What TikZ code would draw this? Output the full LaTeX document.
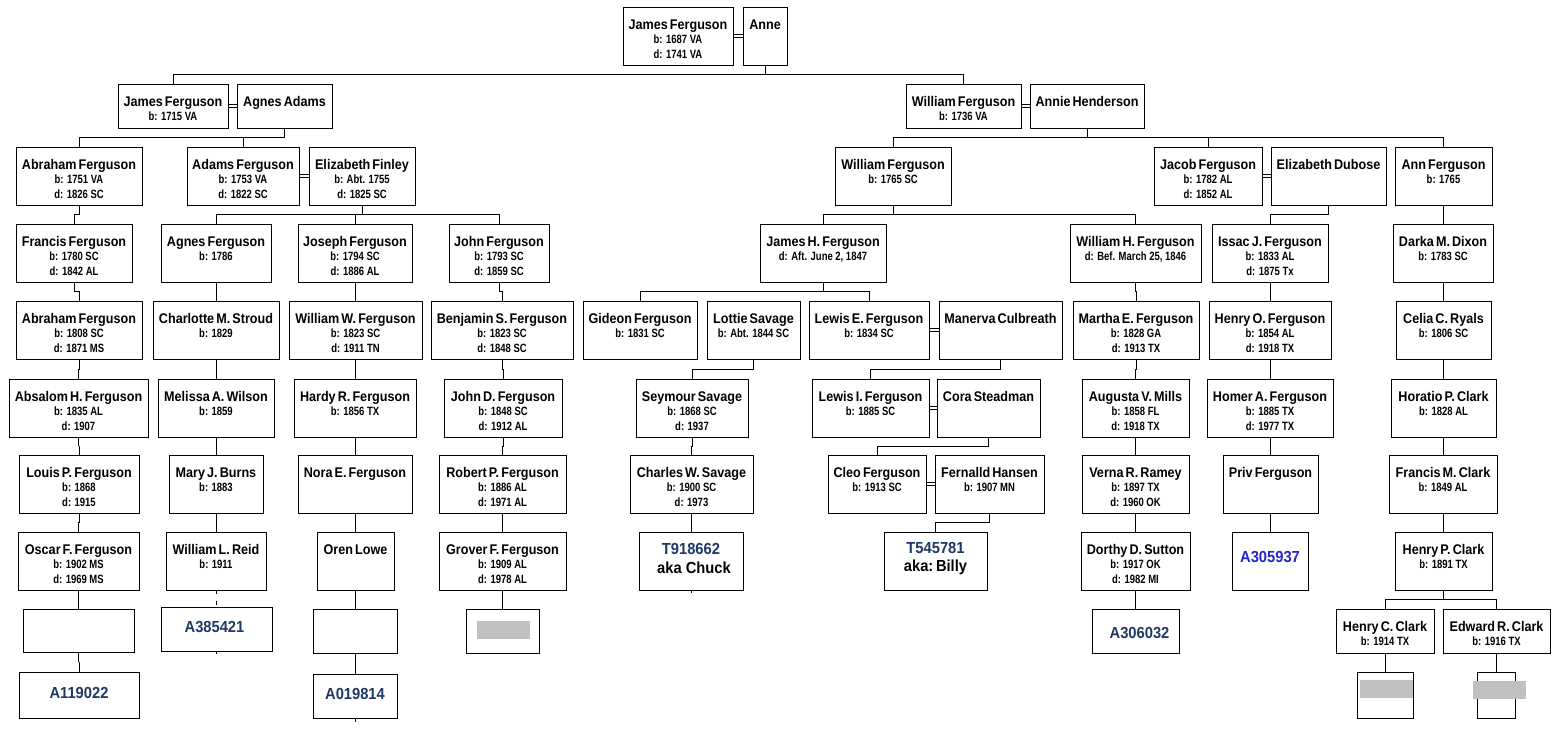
\documentclass[tikz,border=0pt]{standalone}
\usepackage{fontspec}
\setmainfont{Liberation Sans}
\newfontfamily\namefont{Liberation Sans}[FakeStretch=0.9,WordSpace=0.6]
\newfontfamily\datefont{Liberation Sans}[FakeStretch=0.79]
\newfontfamily\idfont{Liberation Sans}[FakeStretch=0.92]
\usetikzlibrary{calc}
\definecolor{navy}{HTML}{1F3864}
\definecolor{brblue}{HTML}{2424CC}
\definecolor{boxgray}{HTML}{C0C0C0}
\tikzset{
 pbox/.style={draw=black, line width=1pt, rectangle, inner sep=0pt, outer sep=0pt, fill=white},
 nm/.style={anchor=base, inner sep=0pt, font=\namefont\bfseries\fontsize{14pt}{16pt}\selectfont},
 dt/.style={anchor=base, inner sep=0pt, font=\datefont\bfseries\fontsize{12pt}{14pt}\selectfont, text=black},
 idt/.style={anchor=base, inner sep=0pt, font=\idfont\bfseries\fontsize{16pt}{18pt}\selectfont, text=navy},
 ln/.style={line width=1pt, black},
}
\newcommand\bx[5]{%
 \node[pbox, minimum width={(#4-#2)*1pt}, minimum height={(#5-#3)*1pt}] (#1) at ({(#2+#4)/2},{(#3+#5)/2}) {};}
\newcommand\pp[8]{%
 \bx{#1}{#2}{#3}{#4}{#5}
 \node[nm] (#1-a) at ([yshift=-22pt]#1.north) {#6};
 \node[dt] (#1-b) at ([yshift=-36.5pt]#1.north) {#7};
 \node[dt] (#1-c) at ([yshift=-51pt]#1.north) {#8};}
\newcommand\junc[2]{%
 \coordinate (#1-j) at ($(#1.south)!0.5!(#1.south |- #2.north)$);
 \draw[ln] (#1.south) -- (#1-j);}
\newcommand\kid[2]{\draw[ln] (#1-j) -| (#2.north);}
\newcommand\marr[2]{%
 \draw[ln] ([yshift=1.4pt]#1.east) -- ([yshift=1.4pt]#2.west);
 \draw[ln] ([yshift=-1.4pt]#1.east) -- ([yshift=-1.4pt]#2.west);}
\begin{document}
\begin{tikzpicture}[x=1pt,y=-1pt]
\fill[white] (0,0) rectangle (1564,737);
\useasboundingbox (0,0) rectangle (1564,737);
% Row 0
\pp{JF0}{623}{7}{733}{65}{James Ferguson}{b: 1687 VA}{d: 1741 VA}
\pp{AN0}{743}{7}{787}{65}{Anne}{}{}
% Row 1
\pp{JF1}{118}{84}{228}{128}{James Ferguson}{b: 1715 VA}{}
\pp{AA1}{237}{84}{332}{128}{Agnes Adams}{}{}
\pp{WF1}{906}{84}{1021}{128}{William Ferguson}{b: 1736 VA}{}
\pp{AH1}{1030}{84}{1144}{128}{Annie Henderson}{}{}
% Row 2
\pp{AbF2}{16}{147}{142}{205}{Abraham Ferguson}{b: 1751 VA}{d: 1826 SC}
\pp{AdF2}{187}{147}{299}{205}{Adams Ferguson}{b: 1753 VA}{d: 1822 SC}
\pp{EF2}{309}{147}{415}{205}{Elizabeth Finley}{b: Abt. 1755}{d: 1825 SC}
\pp{WF2}{835}{147}{951}{205}{William Ferguson}{b: 1765 SC}{}
\pp{JcF2}{1154}{147}{1262}{205}{Jacob Ferguson}{b: 1782 AL}{d: 1852 AL}
\pp{ED2}{1271}{147}{1386}{205}{Elizabeth Dubose}{}{}
\pp{AnF2}{1395}{147}{1492}{205}{Ann Ferguson}{b: 1765}{}
% Row 3
\pp{FF3}{16}{224}{132}{282}{Francis Ferguson}{b: 1780 SC}{d: 1842 AL}
\pp{AgF3}{161}{224}{271}{282}{Agnes Ferguson}{b: 1786}{}
\pp{JoF3}{298}{224}{412}{282}{Joseph Ferguson}{b: 1794 SC}{d: 1886 AL}
\pp{JnF3}{449}{224}{549}{282}{John Ferguson}{b: 1793 SC}{d: 1859 SC}
\pp{JHF3}{760}{224}{886}{282}{James H. Ferguson}{d: Aft. June 2, 1847}{}
\pp{WHF3}{1070}{224}{1201}{282}{William H. Ferguson}{d: Bef. March 25, 1846}{}
\pp{IJF3}{1212}{224}{1328}{282}{Issac J. Ferguson}{b: 1833 AL}{d: 1875 Tx}
\pp{DMD3}{1393}{224}{1493}{282}{Darka M. Dixon}{b: 1783 SC}{}
% Row 4
\pp{AbF4}{16}{301}{142}{359}{Abraham Ferguson}{b: 1808 SC}{d: 1871 MS}
\pp{CMS4}{153}{301}{279}{359}{Charlotte M. Stroud}{b: 1829}{}
\pp{WWF4}{289}{301}{422}{359}{William W. Ferguson}{b: 1823 SC}{d: 1911 TN}
\pp{BSF4}{431}{301}{573}{359}{Benjamin S. Ferguson}{b: 1823 SC}{d: 1848 SC}
\pp{GF4}{583}{301}{697}{359}{Gideon Ferguson}{b: 1831 SC}{}
\pp{LS4}{707}{301}{800}{359}{Lottie Savage}{b: Abt. 1844 SC}{}
\pp{LEF4}{809}{301}{929}{359}{Lewis E. Ferguson}{b: 1834 SC}{}
\pp{MC4}{939}{301}{1062}{359}{Manerva Culbreath}{}{}
\pp{MEF4}{1073}{301}{1199}{359}{Martha E. Ferguson}{b: 1828 GA}{d: 1913 TX}
\pp{HOF4}{1209}{301}{1331}{359}{Henry O. Ferguson}{b: 1854 AL}{d: 1918 TX}
\pp{CCR4}{1396}{301}{1491}{359}{Celia C. Ryals}{b: 1806 SC}{}
% Row 5
\pp{AHF5}{9}{379}{148}{437}{Absalom H. Ferguson}{b: 1835 AL}{d: 1907}
\pp{MAW5}{158}{379}{274}{437}{Melissa A. Wilson}{b: 1859}{}
\pp{HRF5}{294}{379}{416}{437}{Hardy R. Ferguson}{b: 1856 TX}{}
\pp{JDF5}{444}{379}{562}{437}{John D. Ferguson}{b: 1848 SC}{d: 1912 AL}
\pp{SS5}{636}{379}{748}{437}{Seymour Savage}{b: 1868 SC}{d: 1937}
\pp{LIF5}{812}{379}{929}{437}{Lewis I. Ferguson}{b: 1885 SC}{}
\pp{CS5}{937}{379}{1040}{437}{Cora Steadman}{}{}
\pp{AVM5}{1082}{379}{1189}{437}{Augusta V. Mills}{b: 1858 FL}{d: 1918 TX}
\pp{HAF5}{1207}{379}{1333}{437}{Homer A. Ferguson}{b: 1885 TX}{d: 1977 TX}
\pp{HPC5}{1391}{379}{1496}{437}{Horatio P. Clark}{b: 1828 AL}{}
% Row 6
\pp{LPF6}{19}{455}{139}{513}{Louis P. Ferguson}{b: 1868}{d: 1915}
\pp{MJB6}{169}{455}{263}{513}{Mary J. Burns}{b: 1883}{}
\pp{NEF6}{298}{455}{412}{513}{Nora E. Ferguson}{}{}
\pp{RPF6}{439}{455}{566}{513}{Robert P. Ferguson}{b: 1886 AL}{d: 1971 AL}
\pp{CWS6}{630}{455}{753}{513}{Charles W. Savage}{b: 1900 SC}{d: 1973}
\pp{CF6}{828}{455}{926}{513}{Cleo Ferguson}{b: 1913 SC}{}
\pp{FH6}{935}{455}{1044}{513}{Fernalld Hansen}{b: 1907 MN}{}
\pp{VRR6}{1082}{455}{1189}{513}{Verna R. Ramey}{b: 1897 TX}{d: 1960 OK}
\pp{PF6}{1223}{455}{1318}{513}{Priv Ferguson}{}{}
\pp{FMC6}{1389}{455}{1497}{513}{Francis M. Clark}{b: 1849 AL}{}
% Row 7
\pp{OFF7}{18}{532}{139}{590}{Oscar F. Ferguson}{b: 1902 MS}{d: 1969 MS}
\pp{WLR7}{166}{532}{266}{590}{William L. Reid}{b: 1911}{}
\pp{OL7}{317}{532}{394}{590}{Oren Lowe}{}{}
\pp{GFF7}{439}{532}{566}{590}{Grover F. Ferguson}{b: 1909 AL}{d: 1978 AL}
\bx{T91}{639}{532}{743}{590}
\node[idt] (T91-a) at ([yshift=-22pt]T91.north) {T918662};
\node[idt, text=black] (T91-b) at ([xshift=3pt,yshift=-41pt]T91.north) {aka Chuck};
\bx{T54}{884}{532}{987}{590}
\node[idt] (T54-a) at ([yshift=-21pt]T54.north) {T545781};
\node[idt, text=black] (T54-b) at ([yshift=-39pt]T54.north) {aka:\,Billy};
\pp{DDS7}{1081}{532}{1190}{590}{Dorthy D. Sutton}{b: 1917 OK}{d: 1982 MI}
\bx{A305}{1232}{532}{1308}{590}
\node[idt, text=brblue] (A305-a) at ([yshift=-30pt]A305.north) {A305937};
\pp{HPC7}{1395}{532}{1492}{590}{Henry P. Clark}{b: 1891 TX}{}
% Row 8
\bx{BL8a}{23}{609}{134}{652}
\bx{A385}{161}{607}{272}{651}
\node[idt] (A385-a) at ([xshift=-2pt,yshift=-25pt]A385.north) {A385421};
\bx{BL8b}{313}{609}{397}{653}
\bx{GR8}{466}{609}{539}{653}
\fill[boxgray] (477,621) rectangle (530,639);
\bx{A306}{1092}{609}{1179}{653}
\node[idt] (A306-a) at ([xshift=4pt,yshift=-29pt]A306.north) {A306032};
\pp{HCC8}{1336}{609}{1434}{653}{Henry C. Clark}{b: 1914 TX}{}
\pp{ERC8}{1443}{609}{1550}{653}{Edward R. Clark}{b: 1916 TX}{}
% Row 9
\bx{A119}{19}{672}{139}{718}
\node[idt] (A119-a) at ([yshift=-26pt]A119.north) {A119022};
\bx{A019}{313}{674}{397}{718}
\node[idt] (A019-a) at ([yshift=-25pt]A019.north) {A019814};
\bx{GB9a}{1357}{672}{1413}{718}
\fill[boxgray] (1360,680) rectangle (1413,698);
\bx{GB9b}{1477}{672}{1515}{718}
\fill[boxgray] (1473,681) rectangle (1526,699);
% Marriages
\marr{JF0}{AN0}
\marr{JF1}{AA1}
\marr{WF1}{AH1}
\marr{AdF2}{EF2}
\marr{JcF2}{ED2}
\marr{LEF4}{MC4}
\marr{LIF5}{CS5}
\marr{CF6}{FH6}
% Descent
\junc{AN0}{JF1} \kid{AN0}{JF1} \kid{AN0}{WF1}
\junc{AA1}{AbF2} \kid{AA1}{AbF2} \kid{AA1}{AdF2}
\junc{AH1}{WF2} \kid{AH1}{WF2} \kid{AH1}{JcF2} \kid{AH1}{AnF2}
\junc{AbF2}{FF3} \kid{AbF2}{FF3}
\junc{EF2}{AgF3} \kid{EF2}{AgF3} \kid{EF2}{JoF3} \kid{EF2}{JnF3}
\junc{WF2}{JHF3} \kid{WF2}{JHF3} \kid{WF2}{WHF3}
\junc{ED2}{IJF3} \kid{ED2}{IJF3}
\junc{AnF2}{DMD3} \kid{AnF2}{DMD3}
\junc{FF3}{AbF4} \kid{FF3}{AbF4}
\junc{AgF3}{CMS4} \kid{AgF3}{CMS4}
\junc{JoF3}{WWF4} \kid{JoF3}{WWF4}
\junc{JnF3}{BSF4} \kid{JnF3}{BSF4}
\junc{JHF3}{GF4} \kid{JHF3}{GF4} \kid{JHF3}{LEF4}
\junc{WHF3}{MEF4} \kid{WHF3}{MEF4}
\junc{IJF3}{HOF4} \kid{IJF3}{HOF4}
\junc{DMD3}{CCR4} \kid{DMD3}{CCR4}
\junc{AbF4}{AHF5} \kid{AbF4}{AHF5}
\junc{CMS4}{MAW5} \kid{CMS4}{MAW5}
\junc{WWF4}{HRF5} \kid{WWF4}{HRF5}
\junc{BSF4}{JDF5} \kid{BSF4}{JDF5}
\junc{LS4}{SS5} \kid{LS4}{SS5}
\junc{MC4}{LIF5} \kid{MC4}{LIF5}
\junc{MEF4}{AVM5} \kid{MEF4}{AVM5}
\junc{HOF4}{HAF5} \kid{HOF4}{HAF5}
\junc{CCR4}{HPC5} \kid{CCR4}{HPC5}
\junc{AHF5}{LPF6} \kid{AHF5}{LPF6}
\junc{MAW5}{MJB6} \kid{MAW5}{MJB6}
\junc{HRF5}{NEF6} \kid{HRF5}{NEF6}
\junc{JDF5}{RPF6} \kid{JDF5}{RPF6}
\junc{SS5}{CWS6} \kid{SS5}{CWS6}
\junc{CS5}{CF6} \kid{CS5}{CF6}
\junc{AVM5}{VRR6} \kid{AVM5}{VRR6}
\junc{HAF5}{PF6} \kid{HAF5}{PF6}
\junc{HPC5}{FMC6} \kid{HPC5}{FMC6}
\junc{LPF6}{OFF7} \kid{LPF6}{OFF7}
\junc{MJB6}{WLR7} \kid{MJB6}{WLR7}
\junc{NEF6}{OL7} \kid{NEF6}{OL7}
\junc{RPF6}{GFF7} \kid{RPF6}{GFF7}
\junc{CWS6}{T91} \kid{CWS6}{T91}
\junc{FH6}{T54} \kid{FH6}{T54}
\junc{VRR6}{DDS7} \kid{VRR6}{DDS7}
\junc{PF6}{A305} \kid{PF6}{A305}
\junc{FMC6}{HPC7} \kid{FMC6}{HPC7}
\junc{OFF7}{BL8a} \kid{OFF7}{BL8a}
\draw[ln, dash pattern=on 4pt off 7pt] (WLR7.south) -- (WLR7.south |- A385.north);
\junc{OL7}{BL8b} \kid{OL7}{BL8b}
\junc{GFF7}{GR8} \kid{GFF7}{GR8}
\junc{DDS7}{A306} \kid{DDS7}{A306}
\junc{HPC7}{HCC8} \kid{HPC7}{HCC8} \kid{HPC7}{ERC8}
\junc{BL8a}{A119} \kid{BL8a}{A119}
\junc{BL8b}{A019} \kid{BL8b}{A019}
\junc{HCC8}{GB9a} \kid{HCC8}{GB9a}
\junc{ERC8}{GB9b} \kid{ERC8}{GB9b}
% stubs
\draw[ln] (T91.south) -- ++(0,3);
\draw[ln] (A385.south) -- ++(0,3);
\draw[ln] (A019.south) -- ++(0,4);
\end{tikzpicture}
\end{document}
